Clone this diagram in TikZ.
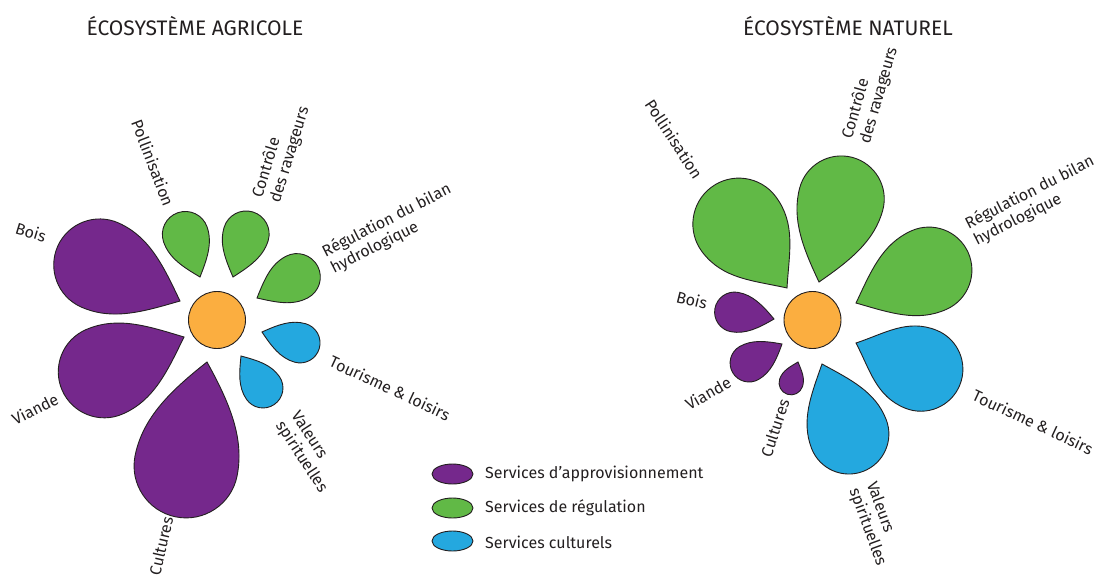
\documentclass[tikz,border=0pt]{standalone}
\usepackage{fontspec}
\setmainfont{Fira Sans}
\definecolor{pPurple}{RGB}{117,40,140}
\definecolor{pGreen}{RGB}{97,185,70}
\definecolor{pBlue}{RGB}{36,168,223}
\definecolor{pOrange}{RGB}{251,174,64}
\definecolor{txt}{RGB}{35,31,32}
\tikzset{
  petalshape/.style={draw=txt,line width=0.9pt},
  lbl/.style={text=txt,font=\fontsize{16}{18.5}\selectfont,inner sep=0pt},
  lbltwo/.style={lbl,align=left},
  ttl/.style={text=txt,font=\fontsize{21}{23}\selectfont,inner sep=0pt},
  legend/.style={ellipse,draw=txt,line width=0.9pt,minimum width=41pt,minimum height=20pt,inner sep=0pt},
  heart/.style={circle,draw=txt,line width=0.9pt,fill=pOrange,minimum size=57pt,inner sep=0pt},
}
\usetikzlibrary{shapes.geometric}
% petal: colour, tip x, tip y (downwards), angle, D (tip to round centre), R
\newcommand\petal[6]{%
  \begin{scope}[shift={(#2,-#3)},rotate=#4]
    \filldraw[petalshape,fill=#1] (0,0)
      .. controls ({0.33*#5},{0.28*#5}) and ({#5-0.75*#6},{#6}) .. ({#5},{#6})
      arc[start angle=90,end angle=-90,radius=#6]
      .. controls ({#5-0.75*#6},{-#6}) and ({0.33*#5},{-0.28*#5}) .. cycle;
  \end{scope}}
\begin{document}
\begin{tikzpicture}[x=1pt,y=1pt]
\useasboundingbox (0,0) rectangle (1096,-579);
% titles
\node[ttl] (t1) at (195,-26) {ÉCOSYSTÈME AGRICOLE};
\node[ttl] (t2) at (848,-26) {ÉCOSYSTÈME NATUREL};
% ---------- agricultural ----------
\petal{pPurple}{180}{301}{155.8}{88}{46}
\petal{pPurple}{184}{337}{203.6}{87}{46}
\petal{pPurple}{207}{362}{258.6}{106}{52}
\petal{pGreen}{200}{277}{109}{45}{23}
\petal{pGreen}{233}{277}{73}{45}{23}
\petal{pGreen}{257}{298}{27.7}{45}{23.5}
\petal{pBlue}{262}{332}{-16}{39.6}{20}
\petal{pBlue}{241}{356}{-55.5}{38.8}{20}
\node[heart] (c1) at (217,-320) {};
\node[lbl,rotate=-17] (a1) at (31,-232) {Bois};
\node[lbl,rotate=-69] (a2) at (153,-163) {Pollinisation};
\node[lbltwo,rotate=73] (a3) at (281,-152) {Contrôle\\des ravageurs};
\node[lbltwo,rotate=27] (a4) at (391,-229) {Régulation du bilan\\hydrologique};
\node[lbl,rotate=-25] (a5) at (390,-388) {Tourisme \& loisirs};
\node[lbltwo,rotate=-57] (a6) at (309,-452) {Valeurs\\spirituelles};
\node[lbl,rotate=27] (a7) at (35,-409) {Viande};
\node[lbl,rotate=77] (a8) at (161,-546) {Cultures};
% ---------- natural ----------
\petal{pGreen}{787}{288}{127}{80}{46}
\petal{pGreen}{819}{282}{75}{86}{43}
\petal{pGreen}{856}{303}{24.3}{80}{43}
\petal{pBlue}{856}{343}{-22}{70}{42}
\petal{pBlue}{822}{364}{-69}{75}{40}
\petal{pPurple}{798}{362}{251.6}{22}{12}
\petal{pPurple}{782}{344}{210}{38}{19}
\petal{pPurple}{774}{319}{170}{40}{20}
\node[heart] (c2) at (812.5,-320) {};
\node[lbl,rotate=-57] (b2) at (674,-139) {Pollinisation};
\node[lbltwo,rotate=74] (b3) at (870,-93) {Contrôle\\des ravageurs};
\node[lbltwo,rotate=27] (b4) at (1034,-201) {Régulation du bilan\\hydrologique};
\node[lbl,rotate=-25] (b5) at (1033,-422) {Tourisme \& loisirs};
\node[lbltwo,rotate=-70] (b6) at (876,-524) {Valeurs\\spirituelles};
\node[lbl,rotate=72] (b8) at (775,-428) {Cultures};
\node[lbl,rotate=30] (b7) at (708,-393) {Viande};
\node[lbl,rotate=-14] (b1) at (692,-300) {Bois};
% ---------- legend ----------
\node[legend,fill=pPurple] (l1) at (452.5,-474) {};
\node[legend,fill=pGreen] (l2) at (452.5,-508) {};
\node[legend,fill=pBlue] (l3) at (452.5,-541) {};
\node[lbl,anchor=west] (lt1) at (485,-474) {Services d’approvisionnement};
\node[lbl,anchor=west] (lt2) at (485,-508) {Services de régulation};
\node[lbl,anchor=west] (lt3) at (485,-542) {Services culturels};
\end{tikzpicture}
\end{document}
